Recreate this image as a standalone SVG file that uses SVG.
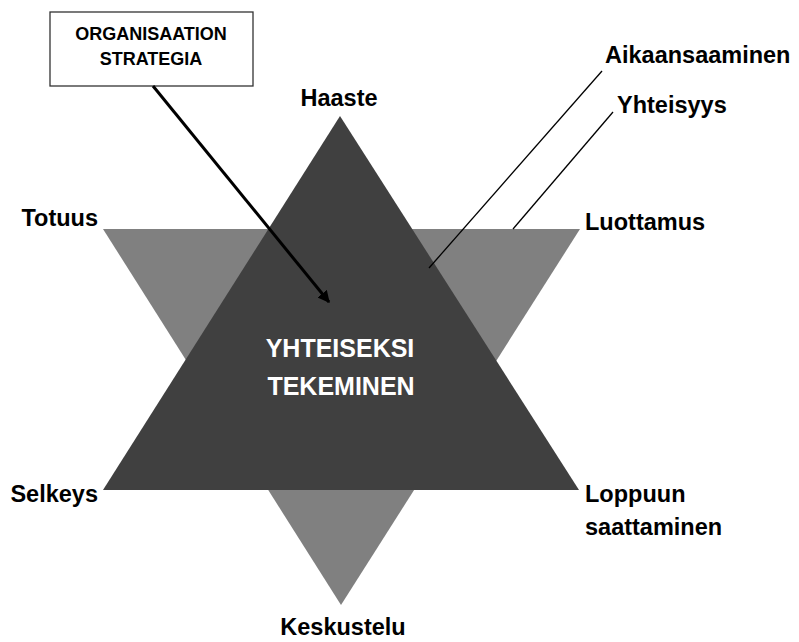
<svg xmlns="http://www.w3.org/2000/svg" width="799" height="642" viewBox="0 0 799 642">
<style>
.lbl{font-family:"Liberation Sans",Arial,sans-serif;font-weight:bold;font-size:23.5px;fill:#000}
.box{font-family:"Liberation Sans",Arial,sans-serif;font-weight:bold;font-size:18px;fill:#000}
.ctr{font-family:"Liberation Sans",Arial,sans-serif;font-weight:bold;font-size:25px;fill:#fff}
.lead{stroke:#000;stroke-width:1.3;fill:none}
</style>
<defs>
<marker id="ah" viewBox="0 0 10 10" refX="9" refY="5" markerWidth="4" markerHeight="4" orient="auto" markerUnits="strokeWidth">
<path d="M0,0 L10,5 L0,10 Z" fill="#000"/>
</marker>
</defs>
<rect width="799" height="642" fill="#fff"/>
<g id="light-triangle">
<polygon points="103,229 580,229 341,605" fill="#808080"/>
</g>
<g id="dark-triangle">
<polygon points="340,116 103,490 579,490" fill="#404040"/>
</g>
<g id="center">
<text class="ctr" x="340" y="357" text-anchor="middle">YHTEISEKSI</text>
<text class="ctr" x="341" y="395" text-anchor="middle">TEKEMINEN</text>
</g>
<g id="strategy-box">
<rect x="50" y="12" width="203" height="74" fill="#fff" stroke="#333" stroke-width="1.3"/>
<text class="box" x="151" y="40" text-anchor="middle">ORGANISAATION</text>
<text class="box" x="151" y="65" text-anchor="middle">STRATEGIA</text>
</g>
<g id="connectors">
<line x1="153" y1="86" x2="329" y2="302" stroke="#000" stroke-width="3" marker-end="url(#ah)"/>
<line class="lead" x1="602" y1="71" x2="429" y2="268"/>
<line class="lead" x1="613" y1="112" x2="513" y2="229"/>
</g>
<g id="labels">
<text class="lbl" x="339" y="106" text-anchor="middle">Haaste</text>
<text class="lbl" x="98" y="226" text-anchor="end">Totuus</text>
<text class="lbl" x="585" y="230">Luottamus</text>
<text class="lbl" x="605" y="63">Aikaansaaminen</text>
<text class="lbl" x="617" y="113">Yhteisyys</text>
<text class="lbl" x="98" y="502" text-anchor="end">Selkeys</text>
<text class="lbl" x="585" y="502">Loppuun</text>
<text class="lbl" x="585" y="535">saattaminen</text>
<text class="lbl" x="343" y="635" text-anchor="middle">Keskustelu</text>
</g>
</svg>
